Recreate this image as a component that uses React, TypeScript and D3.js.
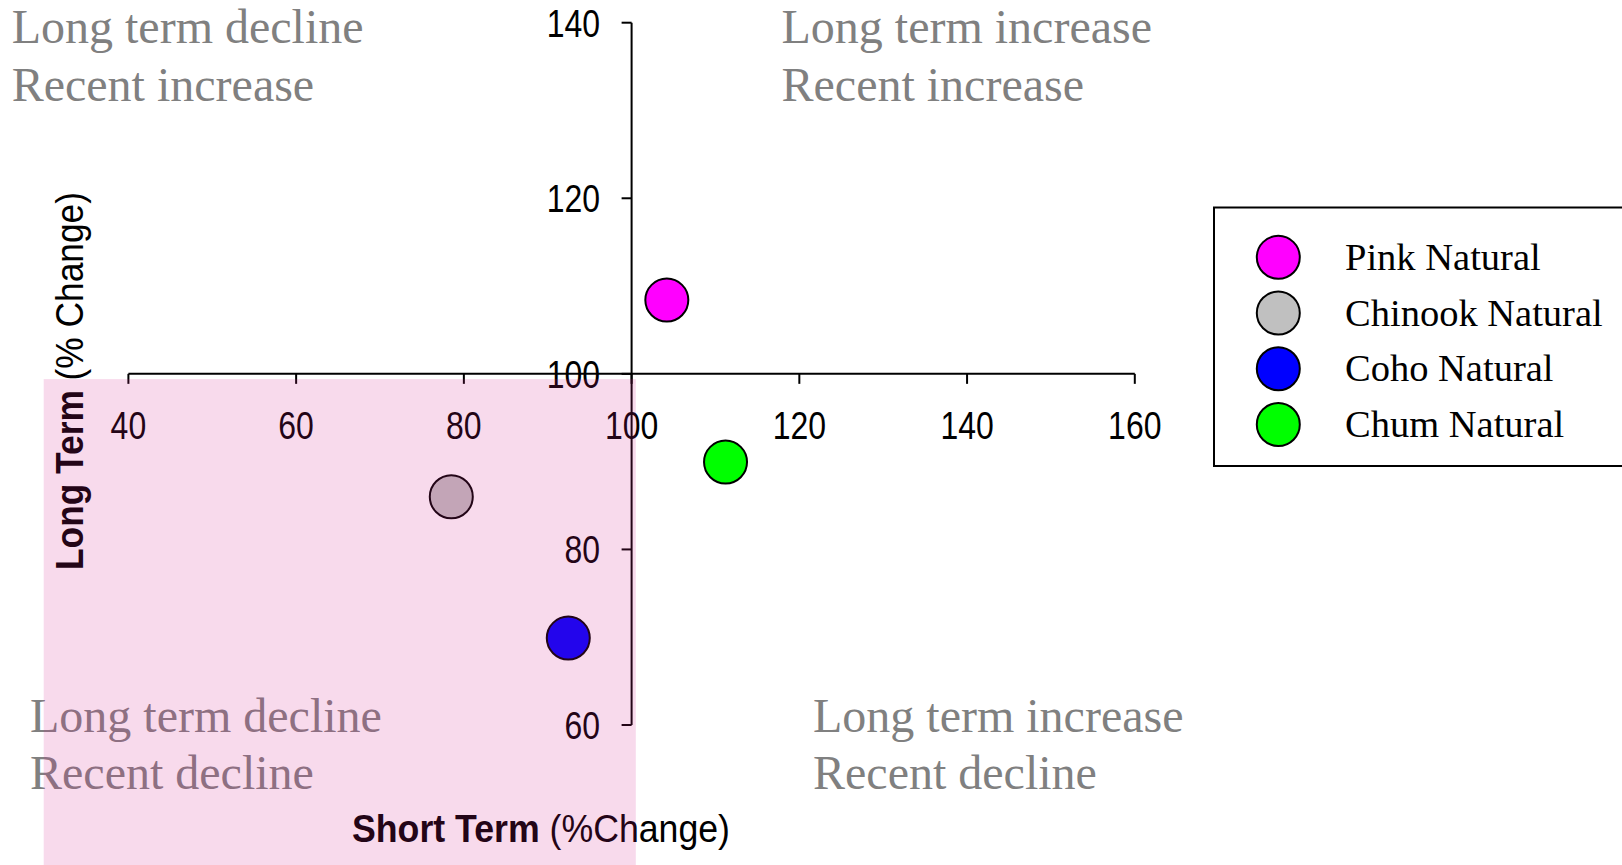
import React from "react";
import * as d3 from "d3";

const seriesNames = ["Pink Natural", "Chinook Natural", "Coho Natural", "Chum Natural"];
const shortTerm = [104.2, 78.5, 92.45, 111.2];
const longTerm = [108.4, 86.0, 69.9, 89.95];
const seriesColors = ["#FF00FF", "#C0C0C0", "#0000FF", "#00FF00"];

const xTicks = [40, 60, 80, 100, 120, 140, 160];
const yTicks = [60, 80, 100, 120, 140];

const quadrantTopLeft = ["Long term decline", "Recent increase"];
const quadrantTopRight = ["Long term increase", "Recent increase"];
const quadrantBottomLeft = ["Long term decline", "Recent decline"];
const quadrantBottomRight = ["Long term increase", "Recent decline"];

// highlighted region (data units): x from ~30 to ~100.5, y below ~99.4
const highlightX = [29.9, 100.5];
const highlightYTop = 99.4;

const W = 1622;
const H = 865;

export default function App() {
  const x = d3.scaleLinear().domain([40, 160]).range([128.4, 1134.8]);
  const y = d3.scaleLinear().domain([60, 140]).range([725, 22.7]);
  const axisX = x(100);
  const axisY = y(100);
  const sans = "'Liberation Sans Narrow', 'Liberation Sans', Arial, sans-serif";
  const serif = "'Liberation Serif', 'Times New Roman', serif";
  const tickFs = 39;
  const r = 21.5;

  const quad = (lines: string[], x0: number, y0: number, key: string) => (
    <g key={key}>
      {lines.map((t, i) => (
        <text key={i} x={x0} y={y0 + i * 57.4} fontFamily={serif} fontSize={48} fill="#808080">
          {t}
        </text>
      ))}
    </g>
  );

  const legendY = d3.scaleLinear().domain([0, 3]).range([257.3, 424.5]);

  return (
    <svg width={W} height={H} style={{ position: "absolute", left: 0, top: 0, background: "#fff" }}>
      <rect x={0} y={0} width={W} height={H} fill="#fff" />
      {quad(quadrantTopLeft, 11.7, 43.3, "tl")}
      {quad(quadrantTopRight, 781.5, 43.3, "tr")}
      {quad(quadrantBottomLeft, 30, 731.5, "bl")}
      {quad(quadrantBottomRight, 813, 731.5, "br")}

      {/* y axis */}
      <line x1={axisX} x2={axisX} y1={y(140)} y2={y(60)} stroke="#000" strokeWidth={2} />
      {yTicks.map((t) => (
        <g key={"y" + t}>
          <line x1={axisX - 10} x2={axisX} y1={y(t)} y2={y(t)} stroke="#000" strokeWidth={2} />
          <text
            x={axisX - 31.5}
            y={y(t) + 14}
            textAnchor="end"
            fontFamily={sans}
            fontSize={tickFs}
            textLength={String(t).length * 0.456 * tickFs}
            lengthAdjust="spacingAndGlyphs"
            fill="#000"
          >
            {t}
          </text>
        </g>
      ))}

      {/* x axis */}
      <line x1={x(40)} x2={x(160)} y1={axisY} y2={axisY} stroke="#000" strokeWidth={2} />
      {xTicks.map((t) => (
        <g key={"x" + t}>
          <line x1={x(t)} x2={x(t)} y1={axisY} y2={axisY + 10} stroke="#000" strokeWidth={2} />
          <text
            x={x(t)}
            y={439.3}
            textAnchor="middle"
            fontFamily={sans}
            fontSize={tickFs}
            textLength={String(t).length * 0.456 * tickFs}
            lengthAdjust="spacingAndGlyphs"
            fill="#000"
          >
            {t}
          </text>
        </g>
      ))}

      {/* axis titles */}
      <text
        transform="translate(83,381) rotate(-90)"
        textAnchor="middle"
        fontFamily="'Liberation Sans', Arial, sans-serif"
        fontSize={38.5}
        textLength={378}
        lengthAdjust="spacingAndGlyphs"
        fill="#000"
      >
        <tspan fontWeight="bold">Long Term</tspan>
        <tspan> (% Change)</tspan>
      </text>
      <text
        x={541}
        y={841.7}
        textAnchor="middle"
        fontFamily="'Liberation Sans', Arial, sans-serif"
        fontSize={38.5}
        textLength={378}
        lengthAdjust="spacingAndGlyphs"
        fill="#000"
      >
        <tspan fontWeight="bold">Short Term</tspan>
        <tspan> (%Change)</tspan>
      </text>

      {/* points */}
      {seriesNames.map((n, i) => (
        <circle
          key={n}
          cx={x(shortTerm[i])}
          cy={y(longTerm[i])}
          r={r}
          fill={seriesColors[i]}
          stroke="#000"
          strokeWidth={2}
        />
      ))}

      {/* highlight overlay */}
      <rect
        x={x(highlightX[0])}
        y={y(highlightYTop)}
        width={x(highlightX[1]) - x(highlightX[0])}
        height={H - y(highlightYTop)}
        fill="rgb(212,30,140)"
        fillOpacity={0.165}
      />

      {/* legend */}
      <rect x={1214} y={207.5} width={430} height={258.5} fill="#fff" stroke="#000" strokeWidth={2} />
      {seriesNames.map((n, i) => (
        <g key={"lg" + n}>
          <circle cx={1278.3} cy={legendY(i)} r={r} fill={seriesColors[i]} stroke="#000" strokeWidth={2} />
          <text x={1345} y={legendY(i) + 12.7} fontFamily={serif} fontSize={38.5} fill="#000">
            {n}
          </text>
        </g>
      ))}
    </svg>
  );
}
